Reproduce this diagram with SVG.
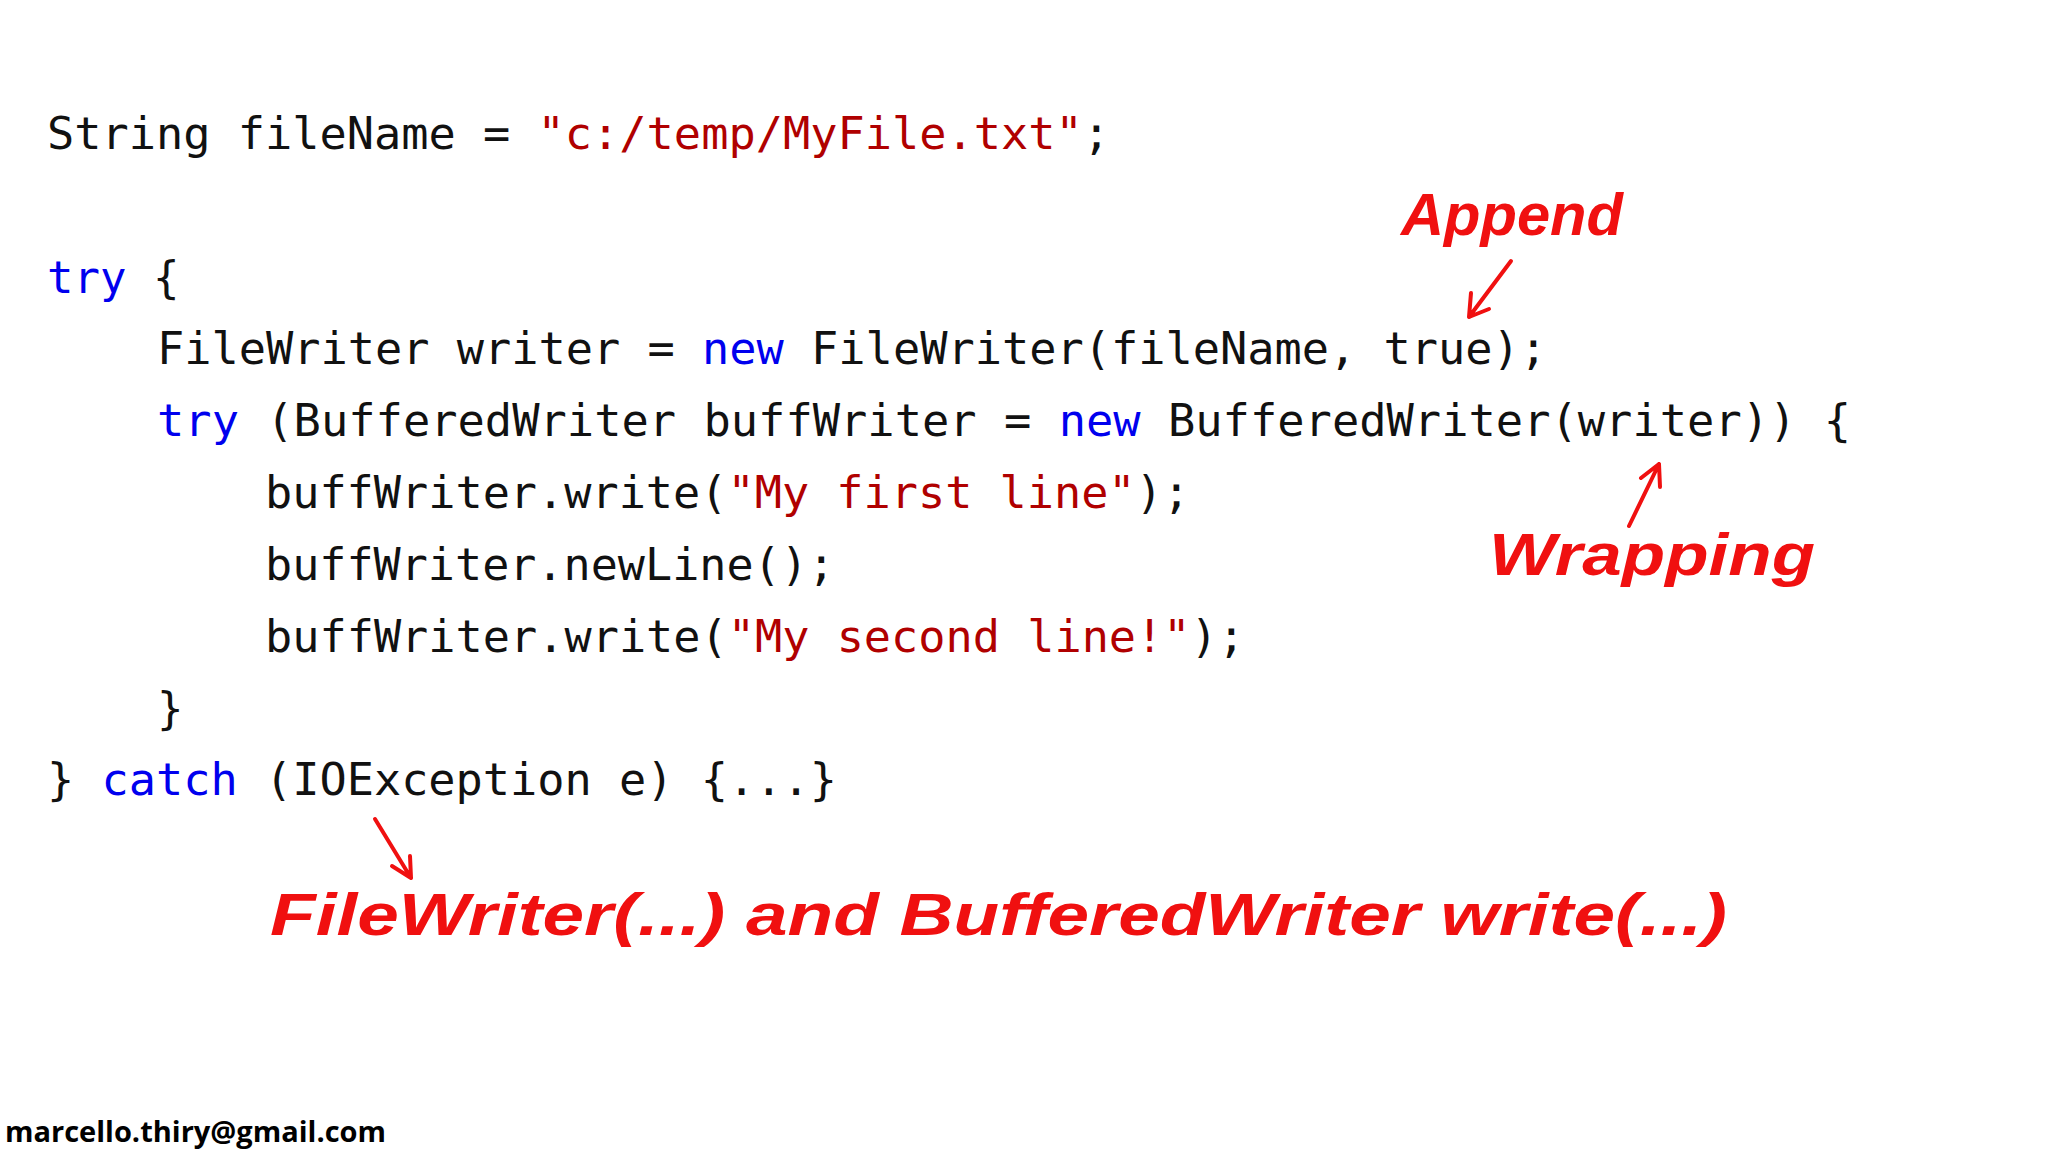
<svg xmlns="http://www.w3.org/2000/svg" width="2048" height="1152" viewBox="0 0 2048 1152">
<style>
.c{font-family:"DejaVu Sans Mono","Liberation Mono",monospace;font-size:44px;fill:#111}
.k{fill:#0000EE}.s{fill:#B00000}
.h{font-family:"Liberation Sans",sans-serif;font-style:italic;font-weight:bold;fill:#F01010;font-size:60px}
.a{stroke:#F01010;stroke-width:4;fill:none;stroke-linecap:round}
.e{font-family:"Open Sans","Liberation Sans",sans-serif;font-weight:bold;font-size:29px;fill:#000}
</style>
<rect width="2048" height="1152" fill="#fff"/>
<g id="code">
<text class="c" x="47" y="149" textLength="1063" lengthAdjust="spacingAndGlyphs">String fileName = <tspan class="s">"c:/temp/MyFile.txt"</tspan>;</text>
<text class="c" x="47" y="293"><tspan class="k">try</tspan> {</text>
<text class="c" x="157" y="364" textLength="1390" lengthAdjust="spacingAndGlyphs">FileWriter writer = <tspan class="k">new</tspan> FileWriter(fileName, true);</text>
<text class="c" x="157" y="436" textLength="1694" lengthAdjust="spacingAndGlyphs"><tspan class="k">try</tspan> (BufferedWriter buffWriter = <tspan class="k">new</tspan> BufferedWriter(writer)) {</text>
<text class="c" x="265" y="508" textLength="925" lengthAdjust="spacingAndGlyphs">buffWriter.write(<tspan class="s">"My first line"</tspan>);</text>
<text class="c" x="265" y="580" textLength="570" lengthAdjust="spacingAndGlyphs">buffWriter.newLine();</text>
<text class="c" x="265" y="652" textLength="980" lengthAdjust="spacingAndGlyphs">buffWriter.write(<tspan class="s">"My second line!"</tspan>);</text>
<text class="c" x="157" y="724">}</text>
<text class="c" x="47" y="795" textLength="790" lengthAdjust="spacingAndGlyphs">} <tspan class="k">catch</tspan> (IOException e) {...}</text>
</g>
<g id="annotations">
<text class="h" x="1401" y="235" textLength="222" lengthAdjust="spacingAndGlyphs">Append</text>
<text class="h" x="1489" y="575" textLength="326" lengthAdjust="spacingAndGlyphs">Wrapping</text>
<text class="h" x="270" y="935" textLength="1457" lengthAdjust="spacingAndGlyphs">FileWriter(...) and BufferedWriter write(...)</text>
</g>
<g id="connectors">
<path class="a" d="M1511 261 L1469 317 M1469 317 L1471 293 M1469 317 L1489 309"/>
<path class="a" d="M1629 526 L1659 464 M1659 464 L1641 478 M1659 464 L1660 487"/>
<path class="a" d="M375 819 L411 878 M411 878 L410 856 M411 878 L392 866"/>
</g>
<text class="e" x="5" y="1142">marcello.thiry@gmail.com</text>
</svg>
